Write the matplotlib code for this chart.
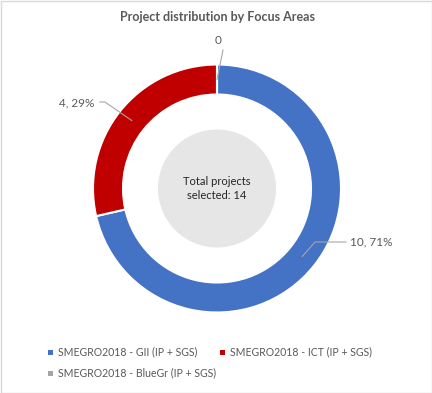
import numpy as np
import matplotlib
matplotlib.use("Agg")
import matplotlib.pyplot as plt
from matplotlib.patches import Circle, Rectangle

plt.rcParams['font.family'] = ['Lato', 'DejaVu Sans']

categories = ['SMEGRO2018 - GII (IP + SGS)', 'SMEGRO2018 - ICT (IP + SGS)', 'SMEGRO2018 - BlueGr (IP + SGS)']
counts = [10, 4, 0]
colors = ['#4472c4', '#c00000', '#a5a5a5']
total = sum(counts)

W, H = 432, 393
fig = plt.figure(figsize=(W / 100, H / 100), dpi=100)
ax = fig.add_axes([0, 0, 1, 1])

# chart border
fig.patches.append(Rectangle((0.5 / W, 0.5 / H), 1 - 1 / W, 1 - 1 / H, transform=fig.transFigure,
                             fill=False, edgecolor='#d9d9d9', linewidth=1))

cx, cy, R = 217, H - 188.5, 124
ring = 30
wedges, _ = ax.pie(counts, colors=colors, startangle=90, counterclock=False, center=(cx, cy), radius=R,
                   wedgeprops=dict(width=ring, edgecolor='white', linewidth=1.5), frame=True)
ax.set_xlim(0, W)
ax.set_ylim(0, H)
ax.set_aspect('equal')
ax.axis('off')

ax.add_patch(Circle((cx, cy), 59, facecolor='#e7e6e6', edgecolor='none'))
ax.text(cx, cy, 'Total projects\nselected: %d' % total, ha='center', va='center', fontsize=8,
        color='#262626', linespacing=1.4)

ax.text(W / 2 + 1, H - 17, 'Project distribution by Focus Areas', ha='center', va='center',
        fontsize=9, fontweight='bold', color='#595959')

# data labels with leader lines
label_pos = [((350, H - 242), 'left'), ((94, H - 103), 'right'), ((218, H - 40), 'center')]
for w, n, (pos, ha) in zip(wedges, counts, label_pos):
    mid = np.radians((w.theta1 + w.theta2) / 2)
    r = R - ring / 2
    px, py = cx + r * np.cos(mid), cy + r * np.sin(mid)
    txt = '0' if n == 0 else '%d, %d%%' % (n, round(100 * n / total))
    if ha == 'left':
        ax.plot([px, pos[0] - 35, pos[0] - 4], [py, pos[1], pos[1]], color='#a6a6a6', lw=0.8)
    elif ha == 'right':
        ax.plot([px, pos[0] + 11, pos[0] + 6], [py, pos[1] + 1, pos[1] + 1], color='#a6a6a6', lw=0.8)
    else:
        ax.plot([px, pos[0] + 5], [py, pos[1] - 10], color='#a6a6a6', lw=0.8)
    ax.text(pos[0], pos[1], txt, ha=ha, va='center', fontsize=8.5, color='#595959')

# legend
leg_pos = [(50, H - 352), (222, H - 352), (50, H - 373)]
for (lx, ly), c, name in zip(leg_pos, colors, categories):
    ax.add_patch(Rectangle((lx - 2.5, ly - 2.5), 5, 5, facecolor=c, edgecolor='none'))
    ax.text(lx + 8, ly, name, ha='left', va='center', fontsize=7.6, color='#595959')

fig.savefig('out.png', dpi=100)
